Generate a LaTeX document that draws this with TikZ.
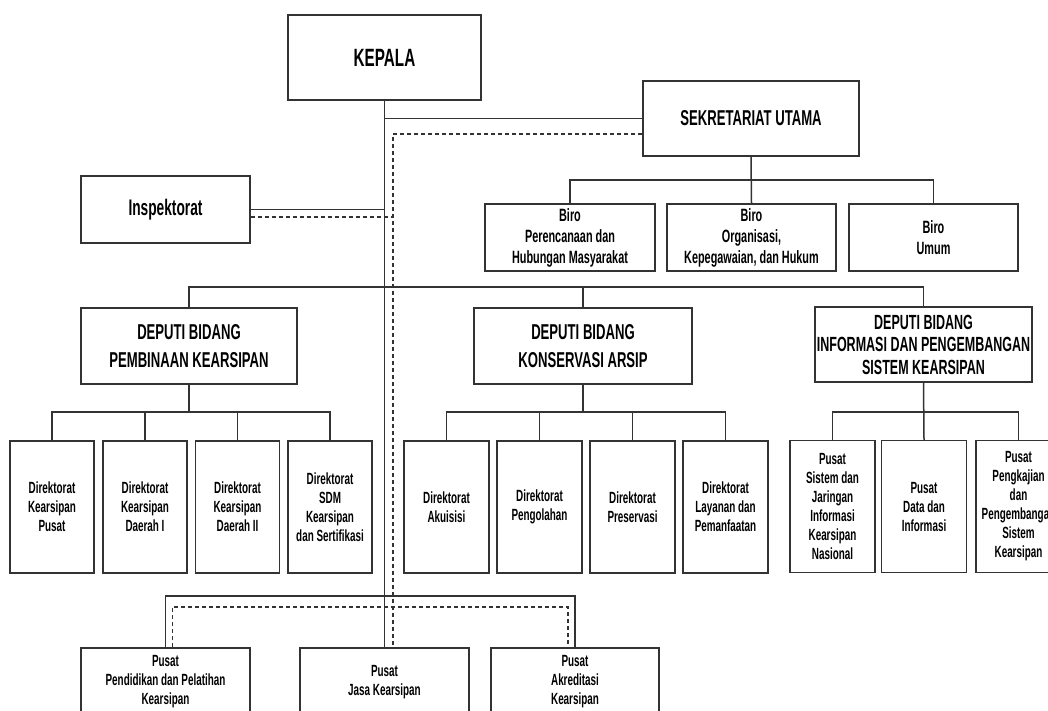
\documentclass[tikz,border=0pt]{standalone}
\usepackage{fontspec}
\newfontfamily\orgfont{Liberation Sans}[FakeStretch=0.61]
\newcommand\fsz[2]{\fontsize{#1}{#2}\selectfont}
\definecolor{linec}{HTML}{333333}
\begin{document}
\begin{tikzpicture}[x=1pt,y=-1pt,
  unit/.style={draw=linec,line width=1.5pt,fill=white,align=center,inner sep=0pt,text=black,font=\orgfont\bfseries},
  topbox/.style={unit,minimum width=193pt,minimum height=85pt,font=\orgfont\bfseries\fsz{25}{30}},
  secbox/.style={unit,minimum width=216pt,minimum height=75pt,font=\orgfont\bfseries\fsz{21.5}{26}},
  birobox/.style={unit,minimum width=170pt,minimum height=67pt,font=\orgfont\bfseries\fsz{17.8}{21}},
  depbox/.style={unit,minimum width=217pt,minimum height=76pt,font=\orgfont\bfseries\fsz{21.5}{28}},
  dirbox/.style={unit,minimum width=85pt,minimum height=132pt,font=\orgfont\bfseries\fsz{16.2}{19}},
  pusbox/.style={unit,minimum width=169pt,minimum height=68pt,font=\orgfont\bfseries\fsz{16.2}{19}},
  link/.style={draw=linec,line width=1.5pt},
  dashlink/.style={draw=linec,line width=1.2pt,dash pattern=on 4pt off 3pt}]
\useasboundingbox (0,0) rectangle (1048,710);
\fill[white] (0,0) rectangle (1048,710);
\clip (0,0) rectangle (1048,710);
\def\yBiro{180}
\def\yDep{287}
\def\yDir{412}
\def\yPus{596}
\node[topbox] (kepala) at (384.5,57.5) {KEPALA};
\node[secbox] (sekre) at (751,118.5) {SEKRETARIAT UTAMA};
\node[secbox,minimum width=169pt,minimum height=67pt,font=\orgfont\bfseries\fsz{22.5}{26}] (inspek) at (165.5,209.5) {Inspektorat};
\node[birobox] (biroA) at (570,237.5) {Biro\\Perencanaan dan\\Hubungan Masyarakat};
\node[birobox,minimum width=169pt] (biroB) at (751.5,237.5) {Biro\\Organisasi,\\Kepegawaian, dan Hukum};
\node[birobox,minimum width=169pt] (biroC) at (933.5,237.5) {Biro\\Umum};
\node[depbox,minimum width=216pt] (depA) at (189,346) {DEPUTI BIDANG\\PEMBINAAN KEARSIPAN};
\node[depbox,minimum width=218pt] (depB) at (583,346) {DEPUTI BIDANG\\KONSERVASI ARSIP};
\node[depbox,minimum height=75pt,font=\orgfont\bfseries\fsz{20.5}{22.5}] (depC) at (923.5,344.5) {DEPUTI BIDANG\\INFORMASI DAN PENGEMBANGAN\\SISTEM KEARSIPAN};
% direktorat
\node[dirbox,minimum width=84pt] (dirA1) at (52,507) {Direktorat\\Kearsipan\\Pusat};
\node[dirbox,minimum width=84pt] (dirA2) at (145,507) {Direktorat\\Kearsipan\\Daerah I};
\node[dirbox,minimum width=84pt] (dirA3) at (237.5,507) {Direktorat\\Kearsipan\\Daerah II};
\node[dirbox,minimum width=84pt] (dirA4) at (330,507) {Direktorat\\SDM\\Kearsipan\\dan Sertifikasi};
\node[dirbox] (dirB1) at (446.5,507) {Direktorat\\Akuisisi};
\node[dirbox] (dirB2) at (539.5,507) {Direktorat\\Pengolahan};
\node[dirbox] (dirB3) at (632.5,507) {Direktorat\\Preservasi};
\node[dirbox] (dirB4) at (725.5,507) {Direktorat\\Layanan dan\\Pemanfaatan};
\node[dirbox] (pusC1) at (832.5,506.5) {Pusat\\Sistem dan\\Jaringan\\Informasi\\Kearsipan\\Nasional};
\node[dirbox] (pusC2) at (924,506.5) {Pusat\\Data dan\\Informasi};
\node[dirbox] (pusC3) at (1018.5,506.5) {Pusat\\Pengkajian\\dan\\Pengembangan\\Sistem\\Kearsipan};
% pusat bawah
\node[pusbox] (pend) at (165.5,682) {Pusat\\Pendidikan dan Pelatihan\\Kearsipan};
\node[pusbox] (jasa) at (384.5,682) {Pusat\\Jasa Kearsipan};
\node[pusbox,minimum width=168pt] (akred) at (575,682) {Pusat\\Akreditasi\\Kearsipan};
\coordinate (dl) at (393,134);
\coordinate (ie) at ([yshift=-7.5pt]inspek.east);
\coordinate (sb) at (751,\yBiro);
\coordinate (db) at (384,\yDep);
\coordinate (busA) at (189,\yDir);
\coordinate (busB) at (583,\yDir);
\coordinate (busC) at (924,\yDir);
\coordinate (pb) at (384,\yPus);
\coordinate (pd) at (393,607);
\draw[link] (kepala.south) -- (jasa.north);
\draw[link] (kepala.south |- sekre.west) -- (sekre.west);
\draw[dashlink] (sekre.west |- dl) -- (dl) -- (dl |- jasa.north);
\draw[link] (inspek.east) -- (inspek.east -| kepala.south);
\draw[dashlink] (ie) -- (ie -| dl);
\draw[link] (sekre.south) -- (biroB.north);
\draw[link] (biroA.north) |- (sb) -| (biroC.north);
\draw[link] (depA.north) |- (db) -| (depC.north);
\draw[link] (depB.north) -- (depB.north |- db);
\draw[link] (depA.south) -- (busA);
\draw[link] (dirA1.north) |- (busA) -| (dirA4.north);
\foreach \n in {dirA2,dirA3} \draw[link] (\n.north) -- (\n.north |- busA);
\draw[link] (depB.south) -- (busB);
\draw[link] (dirB1.north) |- (busB) -| (dirB4.north);
\foreach \n in {dirB2,dirB3} \draw[link] (\n.north) -- (\n.north |- busB);
\draw[link] (depC.south) -- (pusC2.north);
\draw[link] (pusC1.north) |- (busC) -| (pusC3.north);
\draw[link] (pend.north) |- (pb) -| (akred.north);
\draw[dashlink] ([xshift=7pt]pend.north) |- (pd) -| ([xshift=-7pt]akred.north);
\end{tikzpicture}
\end{document}
